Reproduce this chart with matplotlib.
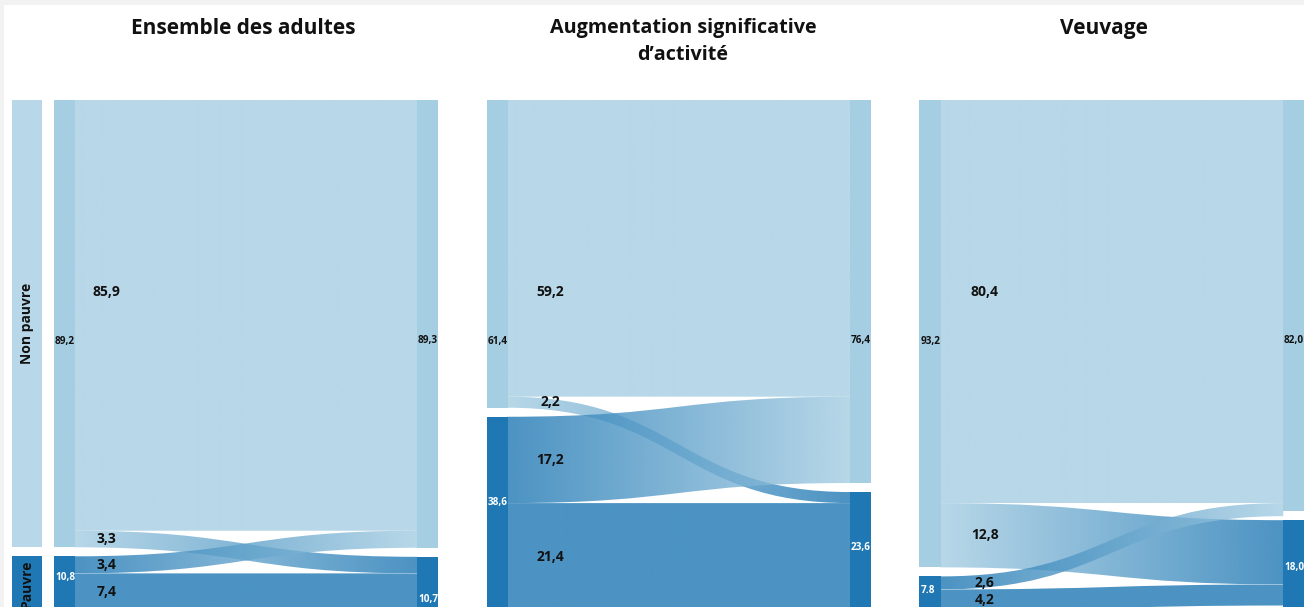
"""
Transitions entre pauvreté et non-pauvreté : diagrammes de flux (sankey) par événement.
"""
import numpy as np
import matplotlib.pyplot as plt
from matplotlib.path import Path
from matplotlib.patches import PathPatch, Rectangle
from matplotlib.colors import to_rgba

plt.rcParams["font.family"] = ["Open Sans", "DejaVu Sans"]

# -------------------- Data --------------------
TITLES = ["Ensemble des adultes", "Augmentation significative\nd’activité", "Veuvage"]
STATES = ["Non pauvre", "Pauvre"]

# flows in each panel: NP->NP, NP->P, P->NP, P->P
FLOWS_ENSEMBLE = [85.9, 3.3, 3.4, 7.4]
FLOWS_ACTIVITE = [59.2, 2.2, 17.2, 21.4]
FLOWS_VEUVAGE = [80.4, 12.8, 2.6, 4.2]

# node totals as printed on the bars: [non pauvre, pauvre]
START_ENSEMBLE = ["89,2", "10,8"]
END_ENSEMBLE = ["89,3", "10,7"]
START_ACTIVITE = ["61,4", "38,6"]
END_ACTIVITE = ["76,4", "23,6"]
START_VEUVAGE = ["93,2", "7.8"]
END_VEUVAGE = ["82,0", "18,0"]

panels = [
    (FLOWS_ENSEMBLE, START_ENSEMBLE, END_ENSEMBLE),
    (FLOWS_ACTIVITE, START_ACTIVITE, END_ACTIVITE),
    (FLOWS_VEUVAGE, START_VEUVAGE, END_VEUVAGE),
]

# -------------------- Layout --------------------
W, H = 1304, 607
TOP_PX = 99.5
PX_PER_UNIT = 5.02
GAP = 1.8  # vertical space between the two nodes (units)
PANEL_X = [53.5, 486.5, 919.5]
PANEL_W = 384.5
NODE_W = 21.5 / PANEL_W
YMAX = (H - TOP_PX) / PX_PER_UNIT

TITLE_X = [243, 683, 1104]
TITLE_Y = [28, 41.5, 28.5]
TITLE_SIZE = [15, 14.2, 15]
FLOW_LABEL_X = [0.137, 0.165, 0.17]
BIG_FLOW_LABEL_Y = 38.3
NODE_LABEL_Y_LEFT = [(48.3, 95.3), (48.3, 80.2), (48.3, 97.9)]
NODE_LABEL_Y_RIGHT = [(48.1, 99.7), (48.1, 89.3), (48.1, 93.3)]

NP_COL = "#a6cee3"
P_COL = "#1f78b4"
LINK_ALPHA = 0.8


def num(s):
    return float(s.replace(",", "."))


def fmt(v):
    return f"{v:.1f}".replace(".", ",")


def draw_link(ax, x0, x1, y0, y1, w, c0, c1):
    xm = (x0 + x1) / 2
    verts = [(x0, y0), (xm, y0), (xm, y1), (x1, y1),
             (x1, y1 + w), (xm, y1 + w), (xm, y0 + w), (x0, y0 + w), (x0, y0)]
    codes = [Path.MOVETO, Path.CURVE4, Path.CURVE4, Path.CURVE4,
             Path.LINETO, Path.CURVE4, Path.CURVE4, Path.CURVE4, Path.CLOSEPOLY]
    patch = PathPatch(Path(verts, codes), facecolor="none", edgecolor="none")
    ax.add_patch(patch)
    t = np.linspace(0, 1, 256)[None, :, None]
    rgba = (1 - t) * np.array(to_rgba(c0)) + t * np.array(to_rgba(c1))
    rgba[..., 3] = LINK_ALPHA
    lo, hi = min(y0, y1), max(y0, y1) + w
    im = ax.imshow(rgba, extent=[x0, x1, hi, lo], aspect="auto",
                   interpolation="bilinear", zorder=1)
    im.set_clip_path(patch)


fig = plt.figure(figsize=(W / 100, H / 100), dpi=100, facecolor="#f2f2f2")
fig.patches.append(Rectangle((3.5 / W, 0), 1, 1 - 4.5 / H, transform=fig.transFigure,
                             facecolor="white", edgecolor="none", zorder=-1))

ax_h = (H - TOP_PX) / H

# -------------------- Row labels --------------------
ax_lab = fig.add_axes([12 / W, 0, 29.5 / W, ax_h])
ax_lab.set_axis_off()
np_l, p_l = [num(s) for s in START_ENSEMBLE]
ax_lab.bar(0, np_l, bottom=0, width=1, align="edge", color=NP_COL, alpha=LINK_ALPHA)
ax_lab.bar(0, p_l, bottom=np_l + GAP, width=1, align="edge", color=P_COL)
ax_lab.text(0.5, np_l / 2, STATES[0], rotation=90, ha="center", va="center",
            fontsize=10, fontweight="bold", color="#111111")
ax_lab.text(0.5, np_l + GAP + p_l / 2, STATES[1], rotation=90, ha="center", va="center",
            fontsize=10, fontweight="bold", color="#111111")
ax_lab.set_xlim(0, 1)
ax_lab.set_ylim(YMAX, 0)

# -------------------- Panels --------------------
overlap = 0.002  # tuck the links slightly under the nodes
for i, (flows, start, end) in enumerate(panels):
    ax = fig.add_axes([PANEL_X[i] / W, 0, PANEL_W / W, ax_h])
    ax.set_axis_off()

    np_l, p_l = [num(s) for s in start]
    np_r, p_r = [num(s) for s in end]
    p0_l = np_l + GAP
    p0_r = np_r + GAP

    # nodes
    ax.bar(0, np_l, bottom=0, width=NODE_W, align="edge", color=NP_COL, zorder=2)
    ax.bar(0, p_l, bottom=p0_l, width=NODE_W, align="edge", color=P_COL, zorder=2)
    ax.bar(1 - NODE_W, np_r, bottom=0, width=NODE_W, align="edge", color=NP_COL, zorder=2)
    ax.bar(1 - NODE_W, p_r, bottom=p0_r, width=NODE_W, align="edge", color=P_COL, zorder=2)

    # links: width, source offset, target offset, colours
    f_nn, f_np, f_pn, f_pp = flows
    links = [
        (f_nn, 0, 0, NP_COL, NP_COL),
        (f_np, f_nn, p0_r, NP_COL, P_COL),
        (f_pn, p0_l, f_nn, P_COL, NP_COL),
        (f_pp, p0_l + f_pn, p0_r + f_np, P_COL, P_COL),
    ]
    for k, (w, ys, yt, c0, c1) in enumerate(links):
        draw_link(ax, NODE_W - overlap, 1 - NODE_W + overlap, ys, yt, w, c0, c1)
        ly = BIG_FLOW_LABEL_Y if k == 0 else ys + w / 2
        ax.text(FLOW_LABEL_X[i], ly, fmt(w), ha="center", va="center",
                fontsize=10, fontweight="bold", color="#111111", zorder=5)

    # node totals
    yl = NODE_LABEL_Y_LEFT[i]
    yr = NODE_LABEL_Y_RIGHT[i]
    ax.text(0.004, yl[0], start[0], ha="left", va="center", fontsize=7.2,
            fontweight="bold", color="#111111", zorder=5)
    ax.text(0.004, yl[1], start[1], ha="left", va="center", fontsize=7.2,
            fontweight="bold", color="white", zorder=5)
    ax.text(1 - NODE_W + 0.004, yr[0], end[0], ha="left", va="center", fontsize=7.2,
            fontweight="bold", color="#111111", zorder=5)
    ax.text(1 - NODE_W + 0.004, yr[1], end[1], ha="left", va="center", fontsize=7.2,
            fontweight="bold", color="white", zorder=5)

    ax.set_xlim(0, 1)
    ax.set_ylim(YMAX, 0)

    fig.text(TITLE_X[i] / W, 1 - TITLE_Y[i] / H, TITLES[i], ha="center", va="center",
             fontsize=TITLE_SIZE[i], fontweight="bold", color="#111111", linespacing=1.42)

fig.savefig("out.png", dpi=100)
